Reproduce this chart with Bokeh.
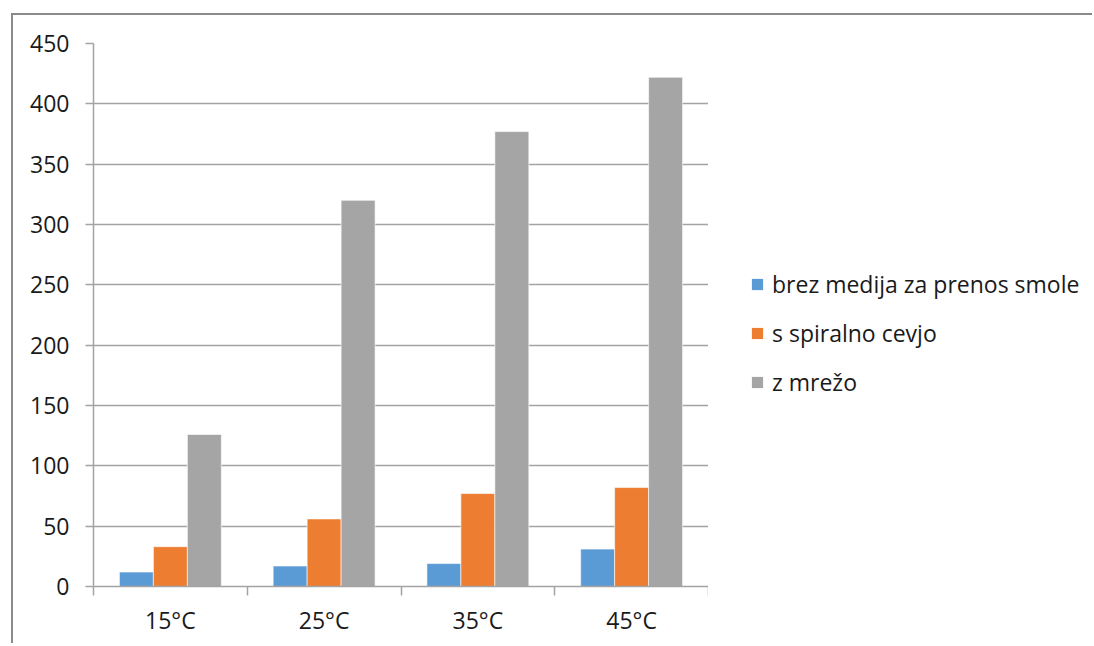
import numpy as np
from bokeh.plotting import figure
from bokeh.layouts import row
from bokeh.models import (ColumnDataSource, Range1d, FixedTicker, Legend, LegendItem)
from bokeh.embed import file_html
from bokeh.resources import INLINE

categories = ["15°C", "25°C", "35°C", "45°C"]
series_names = ["brez medija za prenos smole", "s spiralno cevjo", "z mrežo"]
brez = [12, 17, 19, 31]
spiralna = [33, 56, 77, 82]
mreza = [126, 320, 377, 422]
colors = ["#5B9BD5", "#ED7D31", "#A5A5A5"]
y_ticks = [0, 50, 100, 150, 200, 250, 300, 350, 400, 450]

FONT = "Open Sans"
TXT = "#1a1a1a"
GRID = "#a3a3a3"

centers = np.arange(len(categories)) + 0.5
bar_w = 0.221
offsets = [-bar_w, 0.0, bar_w]

p = figure(frame_width=615, frame_height=543, output_backend="svg", toolbar_location=None,
           x_range=Range1d(0, len(categories)), y_range=Range1d(0, 450),
           min_border_left=80, min_border_right=0, min_border_top=28,
           min_border_bottom=57, outline_line_color=None)

for vals, name, col, off in zip([brez, spiralna, mreza], series_names, colors, offsets):
    src = ColumnDataSource(dict(x=centers + off, top=vals))
    p.vbar(x="x", top="top", width=bar_w, source=src, fill_color=col,
           line_color="white", line_width=0.6)

# axes
p.xaxis.ticker = FixedTicker(ticks=list(centers), minor_ticks=list(range(len(categories) + 1)))
p.xaxis.major_label_overrides = {float(c): lab for c, lab in zip(centers, categories)}
p.xaxis.major_tick_line_color = None
p.xaxis.minor_tick_line_color = GRID
p.xaxis.minor_tick_line_width = 1.5
p.xaxis.minor_tick_out = 9
p.xaxis.minor_tick_in = 0
p.xaxis.axis_line_color = GRID
p.xaxis.axis_line_width = 1.5
p.xaxis.major_label_standoff = 8

p.yaxis.ticker = FixedTicker(ticks=y_ticks)
p.yaxis.minor_tick_line_color = None
p.yaxis.major_tick_line_color = GRID
p.yaxis.major_tick_line_width = 1.5
p.yaxis.major_tick_out = 8
p.yaxis.major_tick_in = 0
p.yaxis.axis_line_color = GRID
p.yaxis.axis_line_width = 1.5
p.yaxis.major_label_standoff = 16

for ax in (p.xaxis, p.yaxis):
    ax.major_label_text_font = FONT
    ax.major_label_text_font_size = "23px"
    ax.major_label_text_color = TXT

p.xgrid.grid_line_color = None
p.ygrid.ticker = FixedTicker(ticks=y_ticks)
p.ygrid.grid_line_color = GRID
p.ygrid.grid_line_width = 1.4

# legend panel (separate figure without axes, to the right of the chart)
lg = figure(width=384, height=628, output_backend="svg", toolbar_location=None,
            x_range=Range1d(0, 1), y_range=Range1d(0, 1),
            x_axis_type=None, y_axis_type=None, min_border=0,
            outline_line_color=None)
lg.grid.visible = False
items = []
for name, col in zip(series_names, colors):
    # zero-height placeholder bar: invisible on the canvas, only its legend swatch shows
    dummy = lg.vbar(x=[0.5], top=[0], bottom=[0], width=0.1, fill_color=col, line_color=None)
    items.append(LegendItem(label=name, renderers=[dummy]))

legend = Legend(items=items, location=(42, 188), orientation="vertical",
                padding=0, margin=0, spacing=17, glyph_width=14, glyph_height=14,
                label_height=31, label_standoff=8,
                label_text_font=FONT, label_text_font_size="23px",
                label_text_color=TXT, border_line_color=None,
                background_fill_alpha=0)
lg.add_layout(legend, "center")

layout = row(p, lg, spacing=0)
layout.styles = {"margin-left": "11px", "margin-top": "13px",
                 "border-top": "2px solid #8a8a8a", "border-left": "2px solid #8a8a8a"}

open("out.html", "w").write(file_html(layout, INLINE))
